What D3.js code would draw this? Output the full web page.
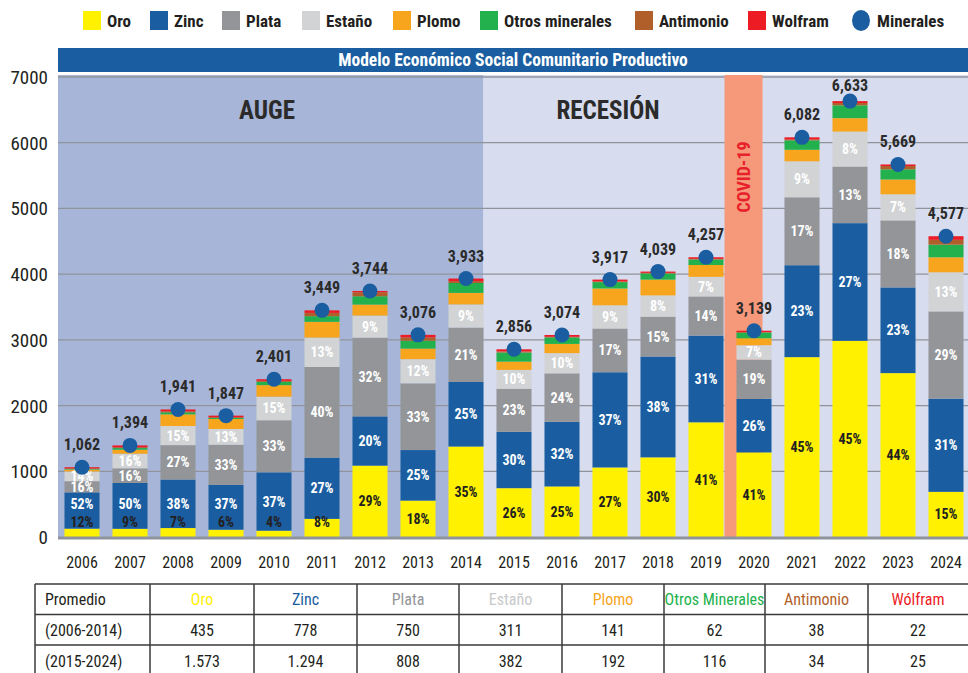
<!DOCTYPE html>
<html><head><meta charset="utf-8">
<script src="https://cdn.jsdelivr.net/npm/d3@7"></script>
<style>
html,body{margin:0;padding:0;background:#fff;}
svg{display:block;font-family:"Roboto Condensed","Liberation Sans Narrow","DejaVu Sans Condensed",sans-serif;}
</style></head><body>
<svg id="c" width="968" height="673"></svg>
<script>
const years = ["2006","2007","2008","2009","2010","2011","2012","2013","2014","2015","2016","2017","2018","2019","2020","2021","2022","2023","2024"];
const minerales = [1062,1394,1941,1847,2401,3449,3744,3076,3933,2856,3074,3917,4039,4257,3139,6082,6633,5669,4577];
const oro = [127,125,136,111,96,276,1086,554,1377,743,769,1058,1212,1745,1287,2737,2985,2494,687];
const zinc = [552,697,738,683,888,931,749,769,983,857,984,1449,1535,1320,816,1399,1791,1304,1419];
const plata = [170,223,524,610,792,1380,1198,1015,826,657,738,666,606,596,596,1034,862,1020,1327];
const estano = [149,223,291,240,360,448,337,369,354,286,307,353,323,298,220,547,531,397,595];
const plomo = [28,60,178,152,175,240,167,160,175,125,140,255,240,180,105,175,205,225,228];
const otros = [8,25,30,15,50,85,126,120,150,140,100,98,95,85,88,145,195,155,192];
const antimonio = [10,12,15,10,15,50,61,50,28,15,8,10,8,8,5,10,35,50,74];
const wolfram = [18,29,29,26,25,39,20,39,40,33,28,28,20,25,22,35,29,24,55];
const yTicks = [0,1000,2000,3000,4000,5000,6000,7000];
const seriesNames = ["Oro","Zinc","Plata","Estaño","Plomo","Otros minerales","Antimonio","Wolfram"];
const periods = [{name:"AUGE", from:"2006", to:"2014"},{name:"RECESIÓN", from:"2015", to:"2024"}];
const covidYear = "2020";
const tableHeader = ["Promedio","Oro","Zinc","Plata","Estaño","Plomo","Otros Minerales","Antimonio","Wólfram"];
const tableRow1 = ["(2006-2014)","435","778","750","311","141","62","38","22"];
const tableRow2 = ["(2015-2024)","1.573","1.294","808","382","192","116","34","25"];

const colors = ["#fff100","#1a5ea1","#939598","#d1d3d4","#f7a51c","#22b14c","#b05f2a","#ed1c24"];
const dotColor = "#1a5ea1";
const seriesData = [oro,zinc,plata,estano,plomo,otros,antimonio,wolfram];

const svg = d3.select("#c");
const x = d3.scaleBand().domain(years).range([58,970]).paddingInner(0.27).paddingOuter(0.135);
const y = d3.scaleLinear().domain([0,7000]).range([537,77]);
const plotL = 58, plotR = 968, plotT = 75, plotB = 537;

// backgrounds
const augeEnd = x("2014") + x.bandwidth();
svg.append("rect").attr("x",plotL).attr("y",plotT).attr("width",augeEnd-plotL).attr("height",plotB-plotT).attr("fill","#a7b6d8");
svg.append("rect").attr("x",augeEnd).attr("y",plotT).attr("width",plotR-augeEnd).attr("height",plotB-plotT).attr("fill","#d7dcee");

// gridlines
svg.append("g").selectAll("line").data(yTicks.filter(d=>d>0)).join("line")
  .attr("x1",plotL).attr("x2",plotR).attr("y1",d=>y(d)).attr("y2",d=>y(d))
  .attr("stroke","#8f949c").attr("stroke-width",1.3);

// covid band
const cx0 = x(covidYear) - 12, cx1 = x(covidYear) + x.bandwidth() - 9;
svg.append("rect").attr("x",cx0).attr("y",plotT).attr("width",cx1-cx0).attr("height",plotB-plotT).attr("fill","#f6997b");
svg.append("text").attr("transform",`translate(${(cx0+cx1)/2+6},177) rotate(-90)`)
  .attr("text-anchor","middle").attr("font-size",18).attr("font-weight","bold").attr("fill","#e8202a").text("COVID-19");

// period labels
svg.append("text").attr("x",267).attr("y",119).attr("text-anchor","middle").attr("font-size",25).attr("font-weight","bold").attr("fill","#2b2b2b").text(periods[0].name);
svg.append("text").attr("x",608).attr("y",119).attr("text-anchor","middle").attr("font-size",25).attr("font-weight","bold").attr("fill","#2b2b2b").text(periods[1].name);

// banner
svg.append("rect").attr("x",plotL).attr("y",48).attr("width",plotR-plotL).attr("height",24).attr("fill","#1a5ea1");
svg.append("text").attr("x",(plotL+plotR)/2).attr("y",66).attr("text-anchor","middle").attr("font-size",17.5).attr("font-weight","bold").attr("fill","#fff").text("Modelo Económico Social Comunitario Productivo");

// stacked bars
const rows = years.map((yr,i)=>{const o={year:yr}; seriesNames.forEach((s,k)=>o[s]=seriesData[k][i]); return o;});
const stack = d3.stack().keys(seriesNames)(rows);
const gBars = svg.append("g");
stack.forEach((layer,k)=>{
  gBars.append("g").attr("fill",colors[k]).selectAll("rect").data(layer).join("rect")
    .attr("x",d=>x(d.data.year)).attr("width",x.bandwidth())
    .attr("y",d=>y(d[1])).attr("height",d=>y(d[0])-y(d[1]));
});

// baseline
svg.append("line").attr("x1",plotL).attr("x2",plotR).attr("y1",y(0)+1).attr("y2",y(0)+1).attr("stroke","#8f949c").attr("stroke-width",3);

// percentage labels
const gLab = svg.append("g").attr("font-size",14).attr("font-weight","bold").attr("text-anchor","middle");
years.forEach((yr,i)=>{
  const tot = minerales[i];
  const cxm = x(yr) + x.bandwidth()/2;
  let prevLabelY = null;
  for(let k=0;k<4;k++){
    const seg = stack[k][i];
    const top = y(seg[1]), bot = y(seg[0]);
    let cy = (top+bot)/2;
    if(k===0 && bot-top < 20) cy = y(0) - 15;
    if(k===1 && prevLabelY!==null) cy = Math.min(cy, prevLabelY - 18);
    prevLabelY = cy;
    const pct = Math.round(seriesData[k][i]/tot*100) + "%";
    gLab.append("text").attr("x",cxm).attr("y",cy+5).attr("fill",k===0?"#231f20":"#fff").text(pct);
  }
});

// minerales dots & totals
svg.append("g").selectAll("circle").data(years).join("circle")
  .attr("cx",d=>x(d)+x.bandwidth()/2).attr("cy",(d,i)=>y(minerales[i])).attr("r",7.5).attr("fill",dotColor);
svg.append("g").attr("font-size",16).attr("font-weight","bold").attr("text-anchor","middle").attr("fill","#2b2b2b")
  .selectAll("text").data(years).join("text")
  .attr("x",d=>x(d)+x.bandwidth()/2).attr("y",(d,i)=>Math.max(y(minerales[i])-17, 91))
  .text((d,i)=>d3.format(",")(minerales[i]));

// y axis labels
svg.append("g").attr("font-size",19).attr("text-anchor","end").attr("fill","#231f20")
  .selectAll("text").data(yTicks).join("text").attr("x",48).attr("y",d=>y(d)+7).text(d=>d);

// x axis labels
svg.append("g").attr("font-size",16).attr("text-anchor","middle").attr("fill","#231f20")
  .selectAll("text").data(years).join("text").attr("x",d=>x(d)+x.bandwidth()/2).attr("y",568).text(d=>d);

// legend
const legX = [83,150,222,302,393,480,635,748,852];
const legend = svg.append("g").attr("font-size",17).attr("font-weight","bold").attr("fill","#231f20");
seriesNames.forEach((s,k)=>{
  legend.append("rect").attr("x",legX[k]).attr("y",11).attr("width",18).attr("height",19).attr("fill",colors[k]);
  legend.append("text").attr("x",legX[k]+24).attr("y",26.5).text(s);
});
legend.append("ellipse").attr("cx",legX[8]+9).attr("cy",20.5).attr("rx",9).attr("ry",10.5).attr("fill",dotColor);
legend.append("text").attr("x",legX[8]+25).attr("y",26.5).text("Minerales");

// table
const colX = [35,150,254,357,459,562,664,765,868,968];
const rowY = [584,614.5,645,676];
const tbl = svg.append("g");
const headColors = ["#231f20"].concat(colors.map((c,k)=>k===3?"#c8c9ca":c));
const tRows = [tableHeader,tableRow1,tableRow2];
tRows.forEach((r,ri)=>{
  r.forEach((t,ci)=>{
    const tx = ci===0 ? colX[0]+10 : (colX[ci]+colX[ci+1])/2;
    tbl.append("text").attr("x",tx).attr("y",(rowY[ri]+rowY[ri+1])/2+6)
      .attr("text-anchor",ci===0?"start":"middle").attr("font-size",16)
      .attr("fill",ri===0?headColors[ci]:"#231f20").text(t);
  });
});
rowY.forEach(v=>tbl.append("line").attr("x1",colX[0]).attr("x2",968).attr("y1",v).attr("y2",v).attr("stroke","#3a3a3a").attr("stroke-width",1.5));
colX.slice(0,9).forEach(v=>tbl.append("line").attr("x1",v).attr("x2",v).attr("y1",rowY[0]).attr("y2",676).attr("stroke","#3a3a3a").attr("stroke-width",1.5));
</script>
</body></html>
